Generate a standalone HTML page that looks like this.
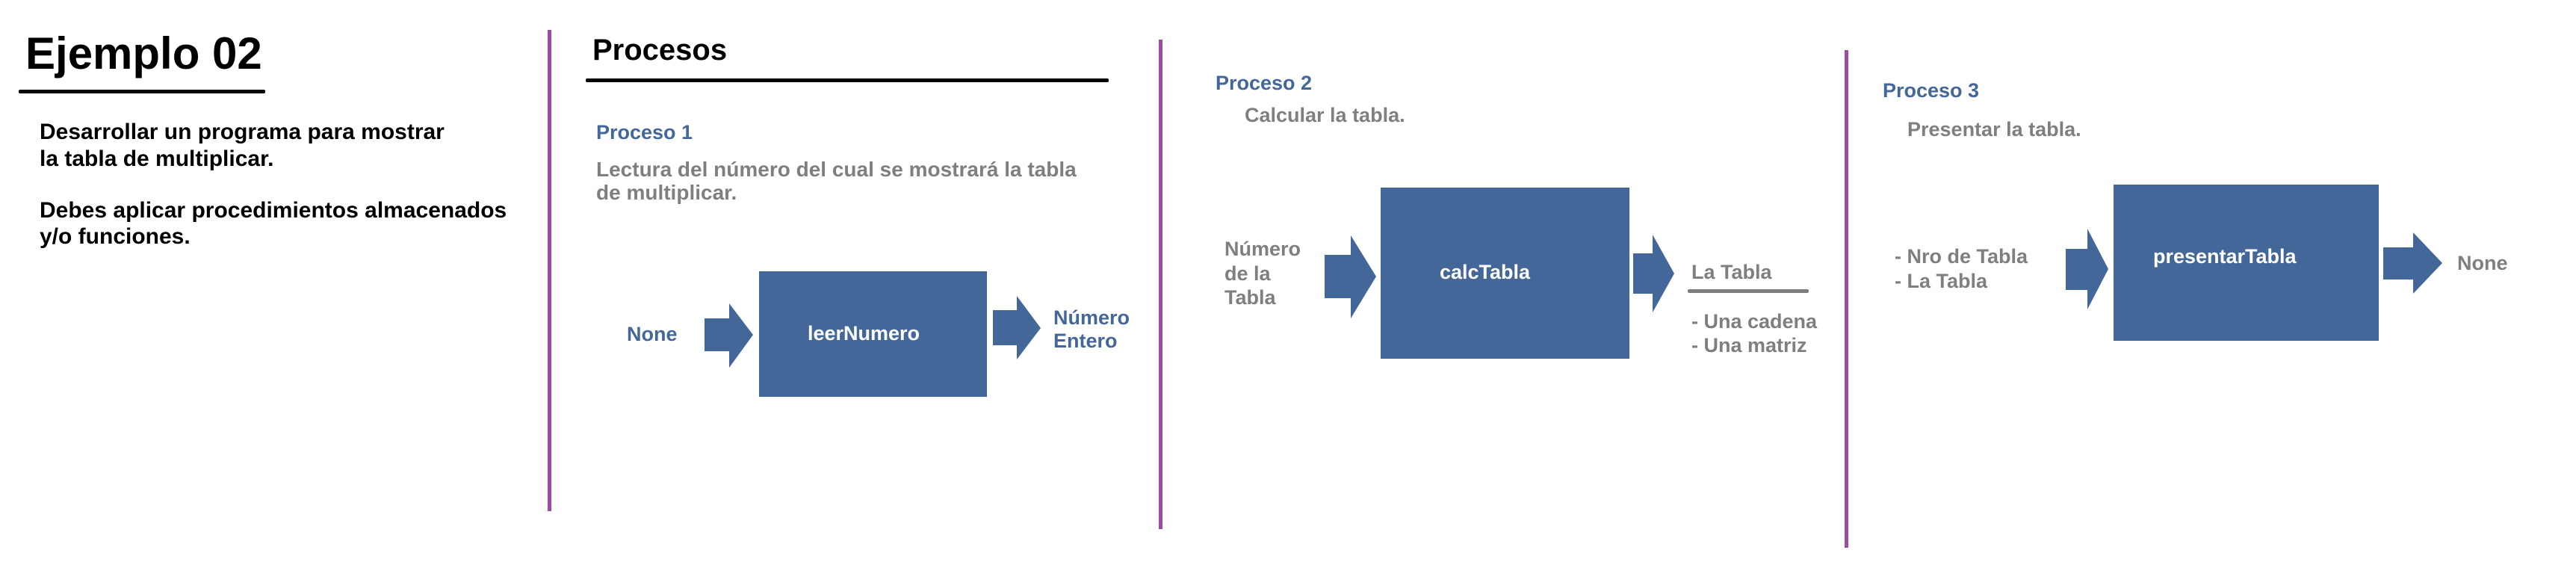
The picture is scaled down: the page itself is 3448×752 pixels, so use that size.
<!DOCTYPE html>
<html><head><meta charset="utf-8"><style>
html,body{margin:0;padding:0;background:#fff;}
svg{display:block;}
text{font-family:"Liberation Sans",Arial,sans-serif;font-weight:bold;}
</style></head><body>
<svg width="3448" height="752" viewBox="0 0 3448 752" xmlns="http://www.w3.org/2000/svg">
<rect width="3448" height="752" fill="#fff"/>
<!-- Left section -->
<text x="34" y="92" font-size="60" fill="#000">Ejemplo 02</text>
<rect x="25" y="120" width="330" height="5" rx="2" fill="#000"/>
<text x="53" y="186" font-size="30" fill="#000">Desarrollar un programa para mostrar</text>
<text x="53" y="222" font-size="30" fill="#000">la tabla de multiplicar.</text>
<text x="53" y="291" font-size="30" fill="#000">Debes aplicar procedimientos almacenados</text>
<text x="53" y="326" font-size="30" fill="#000">y/o funciones.</text>
<!-- dividers -->
<rect x="733" y="40" width="5" height="644" fill="#a04aa8"/>
<rect x="1551" y="53" width="5" height="655" fill="#a04aa8"/>
<rect x="2469" y="67" width="5" height="666" fill="#a04aa8"/>
<g transform="translate(-4,0)">
<!-- Procesos -->
<text x="797" y="80" font-size="40" fill="#000">Procesos</text>
<rect x="788" y="105" width="700" height="5" rx="2" fill="#000"/>
<!-- Proceso 1 -->
<text x="802" y="186" font-size="27" fill="#44679a">Proceso 1</text>
<text x="802" y="236" font-size="28" fill="#7f7f7f">Lectura del número del cual se mostrará la tabla</text>
<text x="802" y="267" font-size="28" fill="#7f7f7f">de multiplicar.</text>
<rect x="1020" y="363" width="305" height="168" fill="#44679a"/>
<text x="1160" y="455" font-size="27" fill="#fff" text-anchor="middle">leerNumero</text>
<polygon points="947,426 980,426 980,406 1012,448 980,492 980,470 947,470" fill="#44679a"/>
<text x="843" y="456" font-size="27" fill="#44679a">None</text>
<polygon points="1333,415 1365,415 1365,396 1397,439 1365,481 1365,462 1333,462" fill="#44679a"/>
<text x="1414" y="434" font-size="27" fill="#44679a">Número</text>
<text x="1414" y="465" font-size="27" fill="#44679a">Entero</text>
</g>
<!-- Proceso 2 -->
<text x="1627" y="120" font-size="27" fill="#44679a">Proceso 2</text>
<text x="1666" y="163" font-size="27" fill="#7f7f7f">Calcular la tabla.</text>
<rect x="1848" y="251" width="333" height="229" fill="#44679a"/>
<text x="1927" y="373" font-size="27" fill="#fff">calcTabla</text>
<polygon points="1773,341 1808,341 1808,315 1842,370 1808,426 1808,399 1773,399" fill="#44679a"/>
<text x="1639" y="342" font-size="27" fill="#7f7f7f">Número</text>
<text x="1639" y="375" font-size="27" fill="#7f7f7f">de la</text>
<text x="1639" y="407" font-size="27" fill="#7f7f7f">Tabla</text>
<polygon points="2186,339 2212,339 2212,314 2241,366 2212,418 2212,393 2186,393" fill="#44679a"/>
<text x="2264" y="373" font-size="27" fill="#7f7f7f">La Tabla</text>
<rect x="2259" y="387" width="162" height="5" rx="2" fill="#7f7f7f"/>
<text x="2264" y="439" font-size="27" fill="#7f7f7f">- Una cadena</text>
<text x="2264" y="471" font-size="27" fill="#7f7f7f">- Una matriz</text>
<g transform="translate(-6,0)">
<!-- Proceso 3 -->
<text x="2526" y="130" font-size="27" fill="#44679a">Proceso 3</text>
<text x="2559" y="182" font-size="27" fill="#7f7f7f">Presentar la tabla.</text>
<rect x="2835" y="247" width="355" height="209" fill="#44679a"/>
<text x="2888" y="352" font-size="27" fill="#fff">presentarTabla</text>
<polygon points="2771,333 2800,333 2800,306 2828,360 2800,414 2800,388 2771,388" fill="#44679a"/>
<text x="2542" y="352" font-size="27" fill="#7f7f7f">- Nro de Tabla</text>
<text x="2542" y="385" font-size="27" fill="#7f7f7f">- La Tabla</text>
<polygon points="3196,331 3236,331 3236,311 3275,352 3236,393 3236,374 3196,374" fill="#44679a"/>
<text x="3295" y="361" font-size="27" fill="#7f7f7f">None</text>
</g>
</svg>
</body></html>
